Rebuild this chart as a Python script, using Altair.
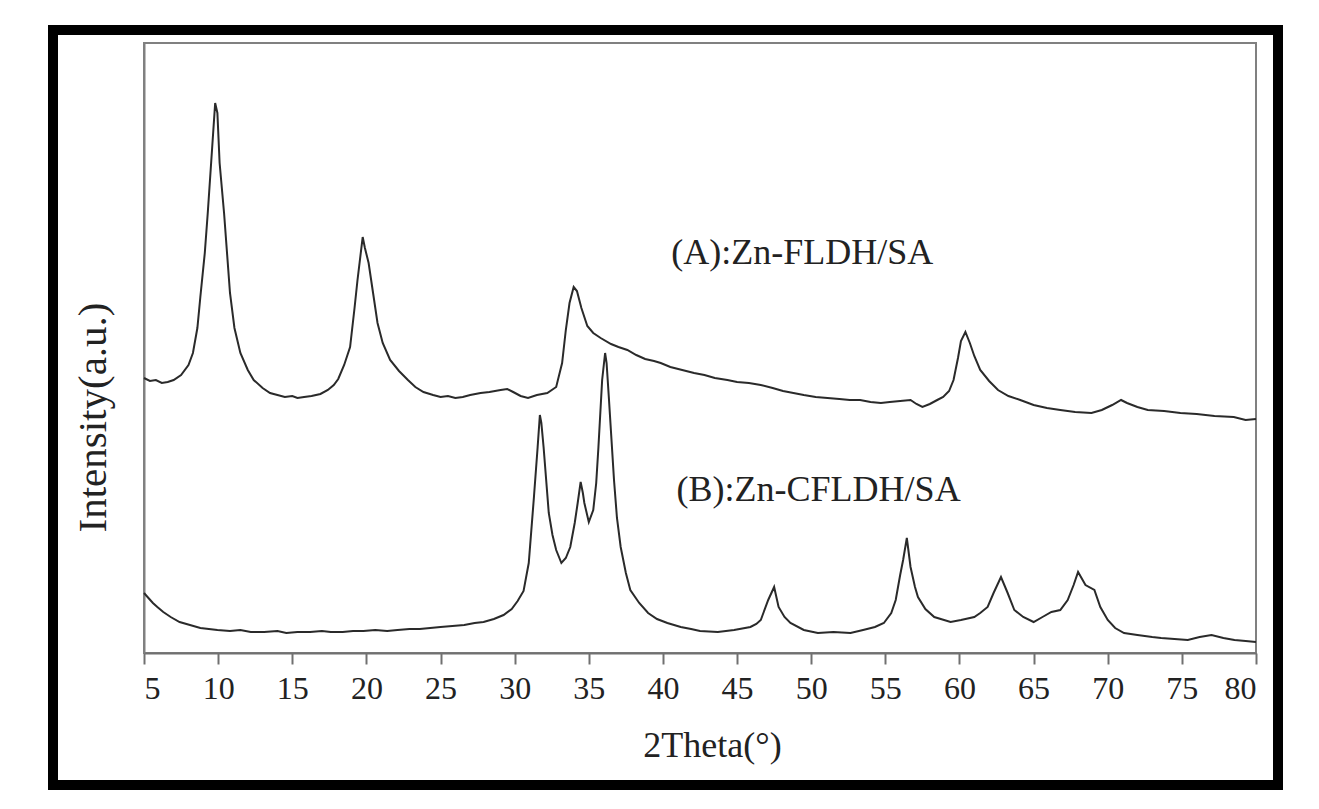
import altair as alt
import pandas as pd

# Curve A: Zn-FLDH/SA  (2theta, intensity a.u.)
a_x = [5.0, 5.4, 5.8, 6.2, 6.6, 7.0, 7.5, 8.0, 8.3, 8.6, 8.8, 9.1, 9.3, 9.6, 9.8, 9.95, 10.1, 10.4, 10.8, 11.1,
       11.5, 12.0, 12.4, 13.0, 13.5, 14.0, 14.5, 15.0, 15.35, 15.8, 16.3, 16.9, 17.4, 17.8, 18.1, 18.5, 18.9, 19.2,
       19.4, 19.75, 19.9, 20.15, 20.45, 20.75, 21.1, 21.6, 22.2, 22.8, 23.3, 23.85, 24.5, 25.0, 25.5, 26.0, 26.5,
       27.0, 27.7, 28.3, 29.05, 29.5, 29.9, 30.4, 30.9, 31.5, 32.2, 32.8, 33.2, 33.45, 33.7, 33.98, 34.2, 34.5,
       34.9, 35.3, 35.8, 36.5, 37.0, 37.6, 38.2, 38.8, 39.4, 39.85, 40.5, 41.3, 42.1, 42.8, 43.5, 44.35, 45.0,
       45.8, 46.6, 47.4, 48.1, 48.8, 49.5, 50.3, 51.1, 51.9, 52.6, 53.3, 54.0, 54.7, 55.3, 56.0, 56.7, 57.1, 57.5,
       58.0, 58.5, 58.9, 59.3, 59.6, 59.9, 60.1, 60.4, 60.7, 61.0, 61.4, 62.0, 62.6, 63.3, 64.1, 65.0, 65.9, 66.8,
       67.8, 68.9, 69.6, 70.3, 70.9, 71.3, 72.0, 72.7, 73.8, 74.9, 76.0, 77.2, 78.5, 79.3, 80.0]
a_y = [275, 272, 273, 270, 271, 273, 278, 288, 300, 325, 356, 400, 440, 506, 550, 540, 490, 440, 360, 325,
       300, 283, 273, 265, 260, 258, 256, 257, 255, 256, 257, 259, 263, 268, 274, 288, 306, 345,
       373, 416, 405, 390, 360, 330, 310, 293, 282, 273, 266, 261, 258, 256, 257, 255, 256,
       258, 260, 261, 263, 264, 261, 257, 255, 258, 260, 266, 290, 323, 350, 366, 362, 345,
       327, 320, 315, 309, 306, 303, 298, 294, 292, 290, 286, 283, 280, 278, 275, 273, 271,
       270, 268, 265, 262, 260, 258, 256, 255, 254, 253, 253, 251, 250, 251, 252, 253, 249, 246,
       249, 253, 256, 262, 273, 295, 312, 321, 310, 297, 283, 272, 263, 257, 253, 248, 245, 243,
       241, 240, 243, 248, 253, 250, 246, 243, 242, 240, 239, 237, 236, 233, 234]

# Curve B: Zn-CFLDH/SA
b_x = [5.0, 5.3, 5.6, 5.9, 6.3, 6.8, 7.4, 8.1, 8.8, 9.95, 10.8, 11.5, 12.2, 13.1, 14.0, 14.6, 15.35, 16.2, 17.0,
       17.6, 18.4, 19.1, 19.8, 20.6, 21.4, 22.1, 22.9, 23.6, 24.3, 25.0, 25.8, 26.6, 27.3, 27.9, 28.6, 29.25,
       29.8, 30.2, 30.6, 30.95, 31.3, 31.55, 31.7, 31.8, 31.95, 32.3, 32.55, 32.8, 33.15, 33.45, 33.75, 34.05,
       34.25, 34.45, 34.6, 34.7, 35.0, 35.3, 35.5, 35.65, 35.9, 36.1, 36.2, 36.35, 36.7, 36.9, 37.15, 37.5,
       37.8, 38.4, 39.0, 39.6, 40.3, 41.2, 41.9, 42.5, 43.7, 44.8, 45.9, 46.3, 46.6, 47.1, 47.5, 47.8, 48.2,
       48.6, 49.5, 50.45, 51.5, 52.65, 53.5, 54.3, 54.9, 55.4, 55.7, 56.0, 56.2, 56.45, 56.7, 57.0, 57.2,
       57.7, 58.3, 59.4, 60.1, 61.0, 61.4, 61.9, 62.3, 62.8, 63.25, 63.7, 64.3, 65.0, 65.6, 66.2, 66.8,
       67.3, 67.7, 68.0, 68.5, 69.1, 69.5, 70.0, 70.5, 71.1, 72.0, 73.0, 73.6, 74.5, 75.4, 76.2, 77.0,
       77.8, 78.55, 79.3, 80.0]
b_y = [60, 55, 50, 46, 41, 36, 31, 28, 25, 23, 22, 23, 21, 21, 22, 20, 21, 21, 22,
       21, 21, 22, 22, 23, 22, 23, 24, 24, 25, 26, 27, 28, 30, 31, 34, 38,
       44, 52, 62, 90, 156, 206, 238, 230, 206, 140, 118, 103, 90, 95, 106, 130,
       150, 171, 160, 150, 131, 143, 170, 206, 273, 300, 290, 256, 173, 135, 106, 80,
       63, 50, 40, 34, 30, 26, 24, 22, 21, 23, 26, 29, 33, 53, 66, 46, 36,
       30, 23, 20, 21, 20, 23, 26, 30, 40, 53, 78, 93, 115, 86, 66, 56,
       44, 36, 31, 33, 36, 40, 46, 60, 76, 60, 43, 36, 31, 36, 41, 43,
       53, 68, 81, 68, 63, 46, 33, 25, 20, 18, 16, 15, 14, 13, 16, 18,
       15, 13, 12, 11]

series_names = ["(A):Zn-FLDH/SA", "(B):Zn-CFLDH/SA"]
label_x = [49.4, 50.5]
label_y = [400, 163]
x_ticks = list(range(5, 81, 5))

FONT = "Liberation Serif"

df = pd.concat([
    pd.DataFrame({"theta": a_x, "intensity": a_y, "series": series_names[0]}),
    pd.DataFrame({"theta": b_x, "intensity": b_y, "series": series_names[1]}),
])
labels = pd.DataFrame({"theta": label_x, "intensity": label_y, "text": series_names})

x_scale = alt.Scale(domain=[5, 80], nice=False, zero=False)
y_scale = alt.Scale(domain=[0, 610], nice=False)

lines = alt.Chart(df).mark_line(color="#2a2a2a", strokeWidth=2).encode(
    x=alt.X("theta:Q", scale=x_scale,
            axis=alt.Axis(title="2Theta(°)", values=x_ticks, format="d", labelFont=FONT,
                          labelFontSize=32, labelColor="#222", labelPadding=9,
                          tickSize=11, tickWidth=2, tickColor="#707070",
                          domainColor="#707070", domainWidth=2, grid=False,
                          titleFont=FONT, titleFontSize=36, titleFontWeight="normal",
                          titleColor="#222", titleX=568, titleY=92, titleBaseline="middle")),
    y=alt.Y("intensity:Q", scale=y_scale,
            axis=alt.Axis(title="Intensity(a.u.)", labels=False, ticks=False, grid=False,
                          domainColor="#808080", domainWidth=2,
                          titleFont=FONT, titleFontSize=41, titleFontWeight="normal",
                          titleColor="#222", titleX=-51, titleY=374, titleBaseline="middle",
                          titleAngle=270)),
    detail="series:N",
)

text = alt.Chart(labels).mark_text(font=FONT, fontSize=36, color="#222",
                                   align="center", baseline="middle").encode(
    x=alt.X("theta:Q", scale=x_scale),
    y=alt.Y("intensity:Q", scale=y_scale),
    text="text:N",
)

border = alt.Chart(pd.DataFrame({"k": [0]})).mark_rect(
    fill=None, stroke="black", strokeWidth=10
).encode(
    x=alt.value(-91), x2=alt.value(1134), y=alt.value(-13), y2=alt.value(742)
)

chart = alt.layer(lines, text, border).properties(
    width=1112, height=610,
    autosize=alt.AutoSizeParams(type="none"),
    padding={"left": 136, "top": 35, "right": 50, "bottom": 140},
    background="white",
).configure_view(stroke="#808080", strokeWidth=2)

chart.save("out.html", embed_options={"renderer": "svg", "actions": False})
